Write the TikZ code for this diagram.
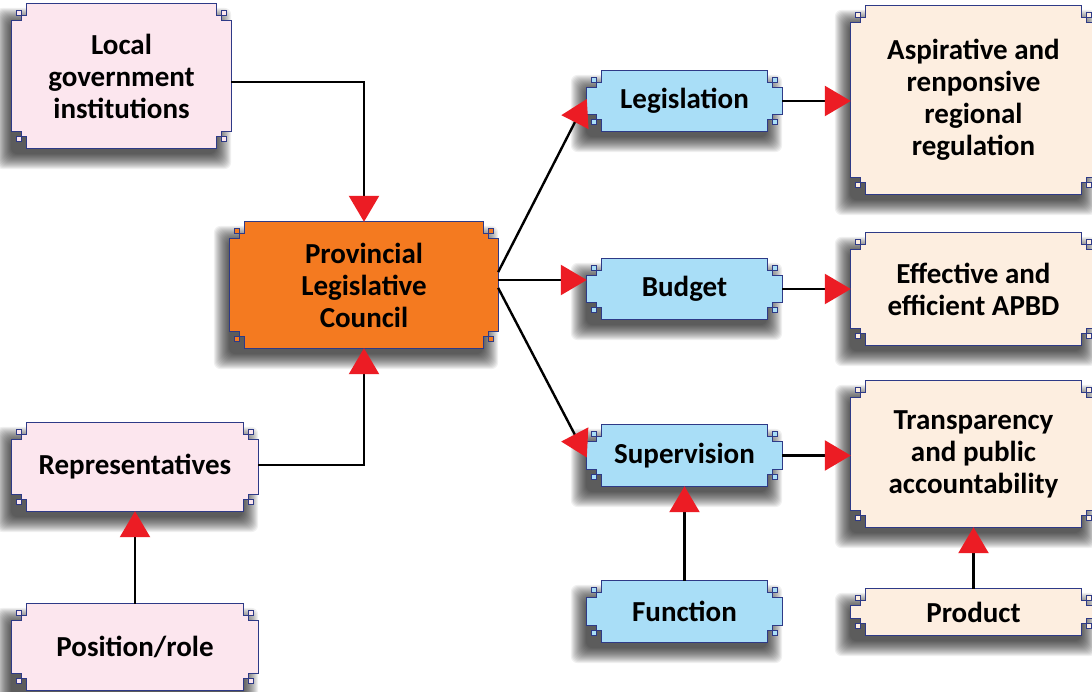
\documentclass[tikz,border=0pt]{standalone}
\usepackage{fontspec}
\setmainfont{Carlito}
\usetikzlibrary{arrows.meta,calc}
\pgfdeclarelayer{bg}
\pgfdeclarelayer{background}
\pgfsetlayers{bg,background,main}
\definecolor{pinkf}{HTML}{FCE6EE}
\definecolor{orangef}{HTML}{F47A20}
\definecolor{bluef}{HTML}{A9DEF7}
\definecolor{creamf}{HTML}{FDEEE0}
\definecolor{bordercol}{HTML}{2E3A87}
\definecolor{arrred}{HTML}{EC1C24}
\tikzset{
  boxtext/.style={align=center, font=\fontsize{29}{32}\selectfont\bfseries, inner sep=0pt, text=black},
  conn/.style={line width=2.4pt, draw=black, -{Triangle[width=30pt,length=26pt,color=arrred]}},
  outline/.style={fill=#1, draw=bordercol, line width=1.3pt},
  shadowlayer/.style={fill=black, opacity=0.06, rounded corners=7pt},
}
\newcommand\notchbox[2]{%
  \begin{pgfonlayer}{background}
  \foreach \d in {0,1,...,15} {
    \path let \p1=(#1.north west), \p2=(#1.south east) in
      [shadowlayer] (\x1-16pt+\d pt,\y1-4pt-\d pt) rectangle (\x2-\d pt,\y2-21pt+\d pt);
  }
  \path let \p1=(#1.north west), \p2=(#1.south east) in
    [outline=#2]
    (\x1+15pt,\y1) -- (\x2-15pt,\y1) -- (\x2-15pt,\y1-12pt) -- (\x2-10pt,\y1-12pt)
    -- (\x2-10pt,\y1-17pt) -- (\x2,\y1-17pt) -- (\x2,\y2+17pt) -- (\x2-10pt,\y2+17pt)
    -- (\x2-10pt,\y2+12pt) -- (\x2-15pt,\y2+12pt) -- (\x2-15pt,\y2) -- (\x1+15pt,\y2)
    -- (\x1+15pt,\y2+12pt) -- (\x1+10pt,\y2+12pt) -- (\x1+10pt,\y2+17pt) -- (\x1,\y2+17pt)
    -- (\x1,\y1-17pt) -- (\x1+10pt,\y1-17pt) -- (\x1+10pt,\y1-12pt) -- (\x1+15pt,\y1-12pt) -- cycle;
  \path let \p1=(#1.north west), \p2=(#1.south east) in
    [outline=#2, line width=1pt]
    (\x1+5pt,\y1-7pt) rectangle (\x1+10pt,\y1-12pt)
    (\x2-5pt,\y1-7pt) rectangle (\x2-10pt,\y1-12pt)
    (\x1+5pt,\y2+7pt) rectangle (\x1+10pt,\y2+12pt)
    (\x2-5pt,\y2+7pt) rectangle (\x2-10pt,\y2+12pt);
  \end{pgfonlayer}}
\begin{document}
\begin{tikzpicture}[x=1pt,y=-1pt]
\begin{pgfonlayer}{bg}
\fill[white] (0,0) rectangle (1092,692);
\end{pgfonlayer}
\useasboundingbox (0,0) rectangle (1092,692);
% nodes
\node[boxtext, minimum width=219pt, minimum height=144pt] (lg) at (121.5,76) {Local\\government\\institutions};
\node[boxtext, minimum width=268pt, minimum height=126pt] (plc) at (364,285) {Provincial\\Legislative\\Council};
\node[boxtext, minimum width=246pt, minimum height=88pt] (rep) at (135,467) {Representatives};
\node[boxtext, minimum width=246pt, minimum height=86pt] (pos) at (135,647) {Position/role};
\node[boxtext, minimum width=195pt, minimum height=60pt] (leg) at (684.5,101) {Legislation};
\node[boxtext, minimum width=195pt, minimum height=60pt] (bud) at (684.5,289) {Budget};
\node[boxtext, minimum width=195pt, minimum height=61pt] (sup) at (684.5,455.5) {Supervision};
\node[boxtext, minimum width=195pt, minimum height=61pt] (fun) at (684.5,611.5) {Function};
\node[boxtext, minimum width=245pt, minimum height=188pt] (asp) at (973.5,100) {Aspirative and\\renponsive\\regional\\regulation};
\node[boxtext, minimum width=245pt, minimum height=112pt] (eff) at (973.5,289) {Effective and\\efficient APBD};
\node[boxtext, minimum width=245pt, minimum height=146pt] (tra) at (973.5,454) {Transparency\\and public\\accountability};
\node[boxtext, minimum width=245pt, minimum height=46pt] (pro) at (973.5,612) {Product};
% box outlines
\notchbox{lg}{pinkf}
\notchbox{plc}{orangef}
\notchbox{rep}{pinkf}
\notchbox{pos}{pinkf}
\notchbox{leg}{bluef}
\notchbox{bud}{bluef}
\notchbox{sup}{bluef}
\notchbox{fun}{bluef}
\notchbox{asp}{creamf}
\notchbox{eff}{creamf}
\notchbox{tra}{creamf}
\notchbox{pro}{creamf}
% connectors
\draw[conn] ([yshift=-6pt]lg.east) -| (plc.north);
\draw[conn] ([yshift=2pt]rep.east) -| (plc.south);
\draw[conn] (pos.north) -- (rep.south);
\draw[conn] ([yshift=13pt]plc.east) -- ([yshift=2pt]leg.west);
\draw[conn] ([yshift=5pt]plc.east) -- ([yshift=5pt]plc.east -| bud.west);
\draw[conn] ([yshift=-3pt]plc.east) -- ([yshift=-2pt]sup.west);
\draw[conn] (leg.east) -- (leg.east -| asp.west);
\draw[conn] (bud.east) -- (bud.east -| eff.west);
\draw[conn] (sup.east) -- (sup.east -| tra.west);
\draw[conn] (fun.north) -- (sup.south);
\draw[conn] (pro.north) -- (tra.south);
\end{tikzpicture}
\end{document}
